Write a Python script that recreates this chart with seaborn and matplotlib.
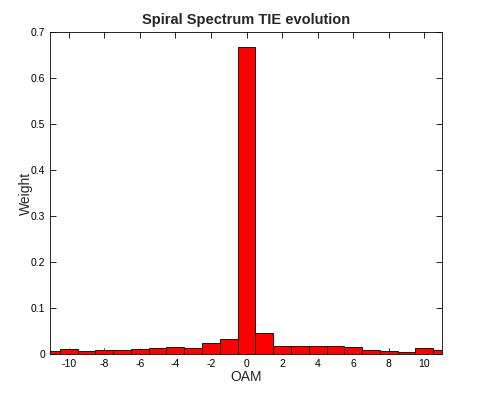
import matplotlib
matplotlib.use("Agg")
import matplotlib.pyplot as plt
import seaborn as sns
import numpy as np

# OAM modes and their spiral spectrum weights
oam = list(range(-11, 12))
weight = [0.0072, 0.011, 0.0058, 0.0087, 0.008, 0.012, 0.0138, 0.0145, 0.0123,
          0.0246, 0.0326, 0.667, 0.045, 0.018, 0.0174, 0.0174, 0.0167, 0.016,
          0.0087, 0.0065, 0.005, 0.0123, 0.0087]
xticks = list(range(-10, 11, 2))
yticks = [0, 0.1, 0.2, 0.3, 0.4, 0.5, 0.6, 0.7]
ytick_labels = ["0", "0.1", "0.2", "0.3", "0.4", "0.5", "0.6", "0.7"]

sns.set_theme(style="white")
plt.rcParams["font.family"] = ["Liberation Sans", "DejaVu Sans"]

fig = plt.figure(figsize=(4.82, 3.96), dpi=100)
ax = fig.add_axes([0.1037, 0.106, 0.8136, 0.813])

sns.barplot(x=oam, y=weight, native_scale=True, width=1, color="red",
            saturation=1, edgecolor="black", linewidth=0.6, ax=ax)

ax.set_xlim(-11.05, 11.0)
ax.set_ylim(0, 0.7)
ax.set_xticks(xticks)
ax.set_xticklabels([str(t) for t in xticks])
ax.set_yticks(yticks)
ax.set_yticklabels(ytick_labels)

ax.tick_params(direction="in", length=4, width=0.6, labelsize=7.5,
               top=True, right=True, bottom=True, left=True, colors="black")
for s in ax.spines.values():
    s.set_visible(True)
    s.set_color("black")
    s.set_linewidth(0.6)

ax.set_xlabel("OAM", fontsize=10, labelpad=1)
ax.set_ylabel("Weight", fontsize=10, labelpad=-2)
ax.set_title("Spiral Spectrum TIE evolution", fontsize=10.5, fontweight="bold", pad=6)

fig.savefig("out.png", dpi=100, facecolor="white")
